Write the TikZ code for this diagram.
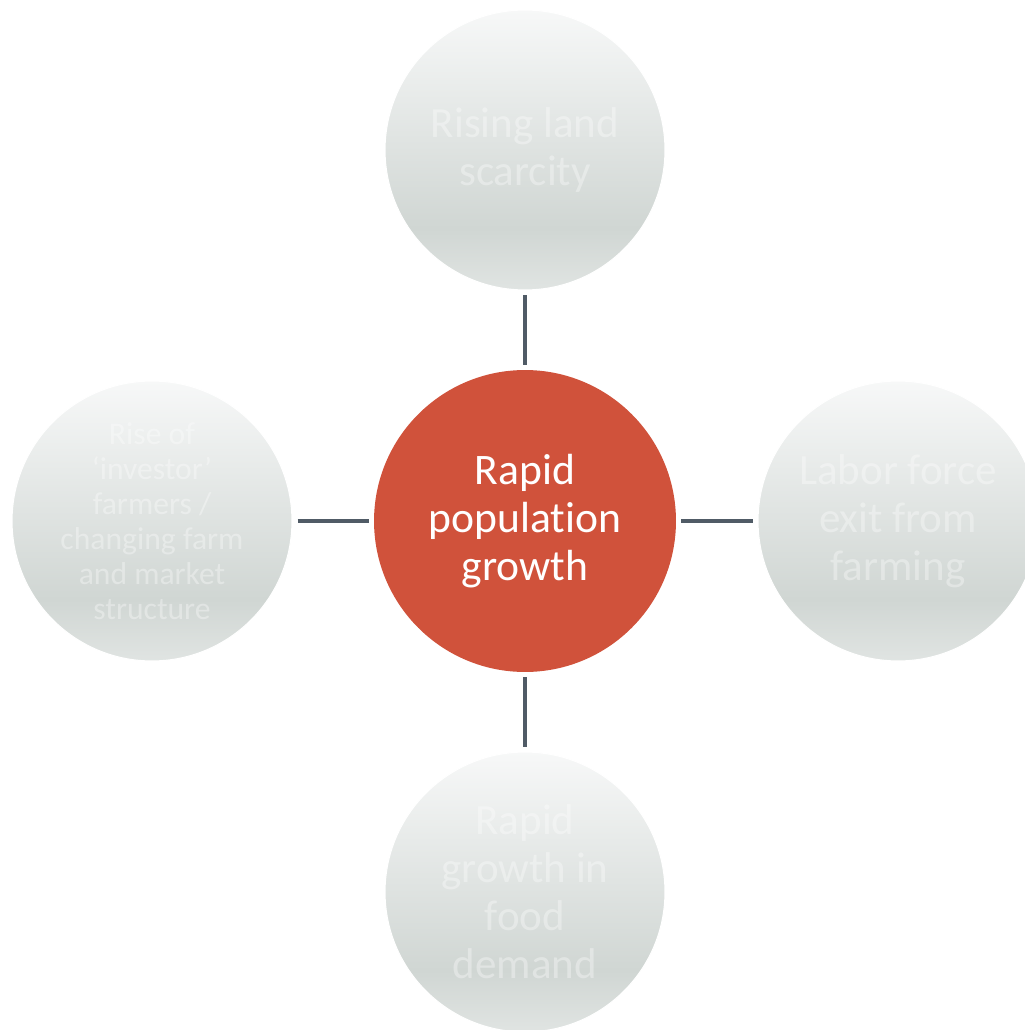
\documentclass[tikz,border=0pt]{standalone}
\usepackage{fontspec}
\setmainfont{Carlito}[Ligatures=NoCommon]
\usetikzlibrary{positioning}
\definecolor{hubred}{RGB}{208,82,59}
\definecolor{linkgray}{RGB}{80,91,102}
\definecolor{gtop}{RGB}{247,248,248}
\definecolor{gmid}{RGB}{208,214,211}
\definecolor{gbot}{RGB}{224,228,226}
\pgfdeclareverticalshading{bubbleshade}{100bp}{color(0bp)=(gbot); color(25bp)=(gbot); color(36bp)=(gmid); color(75bp)=(gtop); color(100bp)=(gtop)}

\begin{document}
\begin{tikzpicture}[x=0.02cm,y=-0.02cm,
		hub/.style={circle, fill=hubred, minimum size=6.04cm, inner sep=0pt, align=center, text=white, font=\fontsize{24.8}{27.3}\selectfont},
		satellite/.style={circle, shading=bubbleshade, draw=white, line width=0.6pt, minimum size=5.6cm, inner sep=0pt, align=center, text=white, text opacity=0.35, font=\fontsize{24.5}{27.3}\selectfont},
		small/.style={font=\fontsize{18}{19.9}\selectfont},
		link/.style={draw=linkgray, line width=2.3pt, shorten <=0.1cm, shorten >=0.1cm}]
		\useasboundingbox (0,0) rectangle (1024,1030);
		\node[hub] (growth) at (525,521) {Rapid\\population\\growth};
		\node[satellite] (land) at (525,150) {Rising land\\scarcity};
		\node[satellite] (labor) at (898,521) {Labor force\\exit from\\farming};
		\node[satellite] (food) at (525,892) {Rapid\\growth in\\food\\demand};
		\node[satellite, small] (investor) at (152,521) {Rise of\\‘investor’\\farmers /\\changing farm\\and market\\structure};
		\draw[link] (land) -- (growth);
		\draw[link] (food) -- (growth);
		\draw[link] (investor) -- (growth);
		\draw[link] (labor) -- (growth);
	\end{tikzpicture}
\end{document}
